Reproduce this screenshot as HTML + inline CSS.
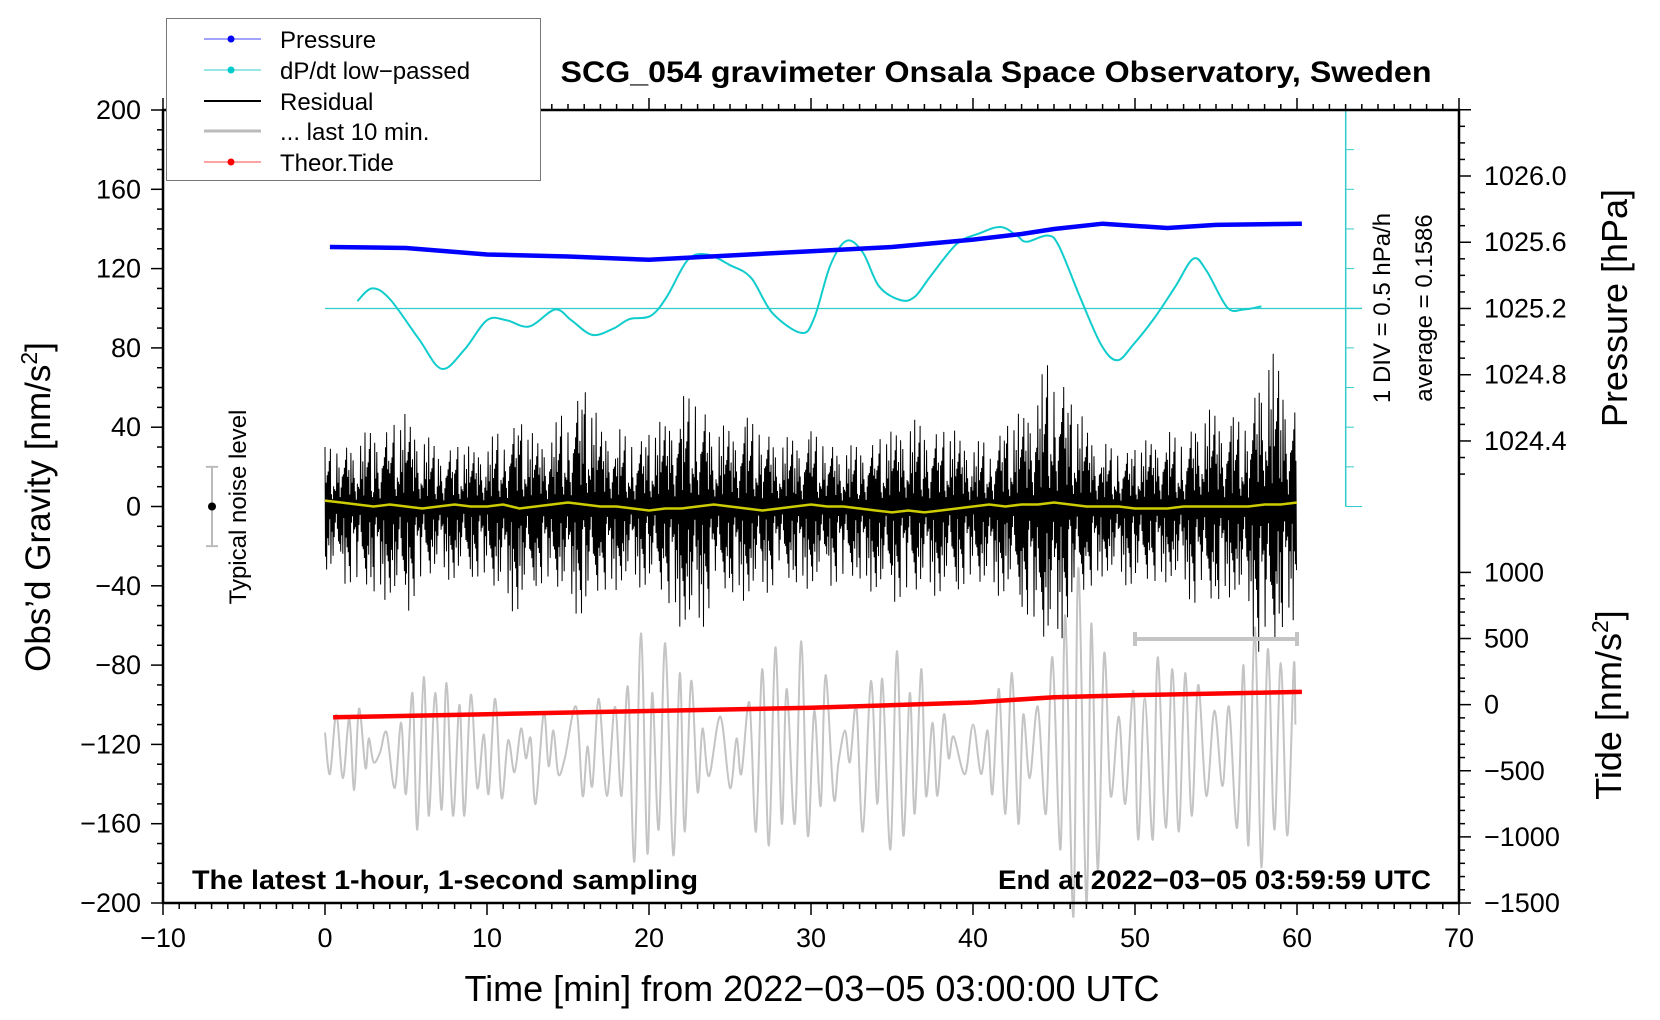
<!DOCTYPE html>
<html><head><meta charset="utf-8"><style>
html,body{margin:0;padding:0;background:#fff;}
svg{display:block;font-family:"Liberation Sans",Arial,sans-serif;}
</style></head><body>
<svg id="chart" width="1660" height="1020" viewBox="0 0 1660 1020" xmlns="http://www.w3.org/2000/svg">
<g id="marks"></g>
<g id="axes"></g>
<text x="996" y="82" text-anchor="middle" font-size="30" font-weight="bold" textLength="871" lengthAdjust="spacingAndGlyphs">SCG_054 gravimeter Onsala Space Observatory, Sweden</text>
<text x="192" y="889" font-size="27" font-weight="bold" textLength="506" lengthAdjust="spacingAndGlyphs">The latest 1-hour, 1-second sampling</text>
<text x="998" y="889" font-size="27" font-weight="bold" textLength="433" lengthAdjust="spacingAndGlyphs">End at 2022−03−05 03:59:59 UTC</text>
<text transform="translate(50,507) rotate(-90)" text-anchor="middle" font-size="35">Obs’d Gravity [nm/s<tspan baseline-shift="super" font-size="23">2</tspan>]</text>
<text transform="translate(1627,308) rotate(-90)" text-anchor="middle" font-size="36">Pressure [hPa]</text>
<text transform="translate(1621,705) rotate(-90)" text-anchor="middle" font-size="36">Tide [nm/s<tspan baseline-shift="super" font-size="23">2</tspan>]</text>
<text x="812" y="1001" text-anchor="middle" font-size="36">Time [min] from 2022−03−05 03:00:00 UTC</text>
<text transform="translate(1390,308) rotate(-90)" text-anchor="middle" font-size="24">1 DIV = 0.5 hPa/h</text>
<text transform="translate(1432,308) rotate(-90)" text-anchor="middle" font-size="24">average = 0.1586</text>
<text transform="translate(246,507) rotate(-90)" text-anchor="middle" font-size="24">Typical noise level</text>
<g>
<rect x="166.5" y="18.5" width="374" height="162" fill="#fff" stroke="#777" stroke-width="1"/>
<g><line x1="204" y1="39" x2="261" y2="39" stroke="#44f" stroke-width="1"/><circle cx="231" cy="39" r="3.5" fill="#00f"/><text x="280" y="48" font-size="24">Pressure</text></g>
<g><line x1="204" y1="70" x2="261" y2="70" stroke="#3cc" stroke-width="1"/><circle cx="231" cy="70" r="3.5" fill="#0cc"/><text x="280" y="79" font-size="24">dP/dt low−passed</text></g>
<g><line x1="204" y1="101" x2="261" y2="101" stroke="#000" stroke-width="2"/><text x="280" y="110" font-size="24">Residual</text></g>
<g><line x1="204" y1="131" x2="261" y2="131" stroke="#bbb" stroke-width="3"/><text x="280" y="140" font-size="24">... last 10 min.</text></g>
<g><line x1="204" y1="162" x2="261" y2="162" stroke="#f44" stroke-width="1"/><circle cx="231" cy="162" r="3.5" fill="#f00"/><text x="280" y="171" font-size="24">Theor.Tide</text></g>
</g>
</svg>
<script>
// ---- data ----
const pressureT = [0.3,5,10,15,20,25,30,35,40,43,45,48,52,55,60.3];
const pressureV = [1025.571,1025.565,1025.526,1025.514,1025.494,1025.52,1025.546,1025.571,1025.616,1025.65,1025.68,1025.712,1025.686,1025.705,1025.712];
const dpdtT = [2,2.9,4,5.8,7.2,8.6,10,11.2,12.6,14.2,15.2,16.5,17.8,18.8,20.1,21.1,22.4,23.6,25,26.3,27.6,29.4,30.2,31.2,32.2,33.2,34.2,35.5,36.4,37.4,39,40.4,41.7,42.7,43.3,44.6,45.3,46.6,47.9,48.9,49.9,51.2,52.5,53.6,54.4,55.7,56.7,57.8];
const dpdtV = [0.093,0.253,0.12,-0.387,-0.76,-0.52,-0.147,-0.147,-0.227,-0.013,-0.147,-0.333,-0.253,-0.133,-0.093,0.147,0.613,0.68,0.547,0.387,-0.053,-0.307,-0.12,0.547,0.853,0.707,0.28,0.107,0.147,0.413,0.813,0.947,1.027,0.92,0.84,0.92,0.787,0.147,-0.453,-0.653,-0.453,-0.12,0.28,0.627,0.48,0.013,-0.013,0.027];
const tideT = [0.5,10,20,30,40,45,50,60.3];
const tideV = [-96,-72,-48,-24,16,56,72,96];
const residualMax = [30,32,35,40,42,47,38,30,32,30,32,42,45,35,38,55,62,42,40,35,38,45,55,60,42,40,45,42,35,35,38,35,30,32,35,38,45,42,40,38,32,35,42,48,60,85,55,42,32,30,30,35,38,35,50,48,45,45,85,70,50];
const residualMin = [-35,-38,-42,-45,-48,-55,-40,-35,-38,-35,-40,-50,-55,-40,-42,-50,-58,-45,-42,-40,-42,-48,-62,-68,-48,-45,-48,-45,-40,-40,-42,-40,-40,-38,-45,-48,-48,-45,-45,-42,-40,-45,-45,-50,-70,-78,-55,-45,-35,-38,-42,-40,-38,-42,-55,-50,-45,-55,-90,-65,-55];
const smoothV = [3,2,1,0,1,0,-1,0,1,0,0,1,-1,0,1,2,1,0,0,-1,-2,-1,-1,0,1,0,-1,-2,-1,0,1,0,0,-1,-2,-3,-2,-3,-2,-1,0,1,0,1,1,2,1,0,0,0,-1,-1,-1,0,0,0,0,0,1,1,2];
const grayT = [0.0,0.3,0.7,1.1,1.5,1.8,2.1,2.5,2.7,3.0,3.4,3.8,4.3,4.7,5.0,5.4,5.7,6.1,6.4,6.8,7.2,7.5,7.9,8.3,8.6,9.0,9.4,9.8,10.1,10.5,10.9,11.3,11.7,12.1,12.4,12.7,13.0,13.5,13.8,14.1,14.4,14.8,15.5,15.9,16.2,16.5,16.9,17.4,17.9,18.3,18.7,19.1,19.5,19.9,20.2,20.6,21.0,21.5,21.9,22.2,22.6,23.0,23.3,23.7,24.4,25.0,25.4,25.7,26.2,26.6,27.0,27.4,27.8,28.2,28.5,29.0,29.4,29.8,30.2,30.6,30.9,31.4,31.7,32.1,32.4,32.8,33.2,33.7,34.1,34.4,34.9,35.3,35.7,36.1,36.4,36.8,37.1,37.5,37.8,38.2,38.5,38.8,39.5,40.0,40.5,40.9,41.2,41.6,42.0,42.4,42.8,43.1,43.5,44.0,44.5,44.9,45.4,45.7,46.2,46.5,47.0,47.3,47.7,48.1,48.5,49.0,49.4,49.9,50.2,50.6,51.1,51.4,51.9,52.3,52.7,53.1,53.5,53.9,54.4,54.9,55.4,55.8,56.3,56.7,57.0,57.4,57.8,58.2,58.6,59.0,59.4,59.8,59.9];
const grayV = [-114,-135,-105,-137,-107,-143,-102,-132,-117,-129,-124,-114,-142,-109,-145,-94,-163,-86,-156,-94,-153,-89,-156,-100,-156,-95,-142,-115,-145,-97,-147,-118,-134,-112,-127,-117,-150,-104,-131,-113,-135,-127,-101,-146,-121,-141,-97,-146,-101,-146,-91,-179,-64,-175,-94,-163,-69,-176,-84,-164,-88,-144,-112,-136,-106,-142,-117,-135,-99,-164,-82,-171,-71,-160,-92,-160,-68,-166,-103,-151,-85,-147,-129,-113,-129,-101,-164,-88,-150,-87,-173,-73,-166,-94,-155,-82,-146,-109,-146,-105,-127,-116,-135,-110,-135,-113,-145,-92,-155,-84,-160,-105,-137,-101,-155,-76,-173,-55,-207,-31,-200,-59,-183,-74,-146,-106,-150,-93,-168,-97,-168,-76,-162,-82,-164,-84,-156,-90,-146,-103,-141,-101,-162,-80,-171,-61,-182,-72,-163,-79,-166,-80,-110];
const gravTicks = [200,160,120,80,40,0,-40,-80,-120,-160,-200];
const gravLabels = ["200","160","120","80","40","0","−40","−80","−120","−160","−200"];
const timeTicks = [-10,0,10,20,30,40,50,60,70];
const timeLabels = ["−10","0","10","20","30","40","50","60","70"];
const pressTicks = [1024.4,1024.8,1025.2,1025.6,1026.0];
const pressLabels = ["1024.4","1024.8","1025.2","1025.6","1026.0"];
const tideTicks = [1000,500,0,-500,-1000,-1500];
const tideLabels = ["1000","500","0","−500","−1000","−1500"];

// ---- scales ----
const L=163,R=1459,T=110,B=903;
const xS = t => L + (t+10)*16.2;
const yG = g => T + (200-g)*1.9825;
const yP = p => 176 + (1026-p)*165.6;
const yD = v => 308.5 - v*79.4;
const yT = v => 903 - (v+1500)*0.13224;

const NS="http://www.w3.org/2000/svg";
const marks=document.getElementById('marks'), axes=document.getElementById('axes');
function mk(tag,attrs,parent){const e=document.createElementNS(NS,tag);for(const k in attrs)e.setAttribute(k,attrs[k]);parent.appendChild(e);return e;}
function smoothPath(xs,ys){let d='M'+xs[0].toFixed(1)+','+ys[0].toFixed(1);for(let i=0;i<xs.length-1;i++){const x0=xs[Math.max(i-1,0)],y0=ys[Math.max(i-1,0)],x1=xs[i],y1=ys[i],x2=xs[i+1],y2=ys[i+1],x3=xs[Math.min(i+2,xs.length-1)],y3=ys[Math.min(i+2,xs.length-1)];d+=' C'+(x1+(x2-x0)/6).toFixed(1)+','+(y1+(y2-y0)/6).toFixed(1)+' '+(x2-(x3-x1)/6).toFixed(1)+','+(y2-(y3-y1)/6).toFixed(1)+' '+x2.toFixed(1)+','+y2.toFixed(1);}return d;}

// gray last 10 min
let e=mk('path',{d:smoothPath(grayT.map(xS),grayV.map(yG)),fill:'none',stroke:'#c4c4c4','stroke-width':2},marks);



// residual
const tex=[1,0.35,0.62,0.18,0.85,0.45,0.28,0.72,0.12,0.5,0.95,0.3,0.58,0.22,0.4,0.68,0.15,0.8,0.38,0.55,0.25,0.9,0.33,0.6,0.2,0.47,0.75,0.1,0.52,0.42];
let rd='';
for(let m=0;m<60;m++){for(let k=0;k<30;k++){const t=m+k/30;const up=(k%2===0);const f=tex[(k*7+m*11)%30];const mx=residualMax[m]+(residualMax[m+1]-residualMax[m])*k/30;const mn=residualMin[m]+(residualMin[m+1]-residualMin[m])*k/30;const g=up?mx*f:mn*f;rd+=(rd?'L':'M')+xS(t).toFixed(1)+','+yG(g).toFixed(1);}}
e=mk('path',{d:rd,fill:'none',stroke:'#000','stroke-width':1},marks);



// smoothed residual
e=mk('polyline',{points:smoothV.map((v,i)=>xS(i).toFixed(1)+','+yG(v).toFixed(1)).join(' '),fill:'none',stroke:'#cc0','stroke-width':2.5},marks);



// tide
e=mk('polyline',{points:tideT.map((t,i)=>xS(t).toFixed(1)+','+yT(tideV[i]).toFixed(1)).join(' '),fill:'none',stroke:'#f00','stroke-width':4.5},marks);



// dpdt zero line
e=mk('line',{x1:xS(0),y1:yD(0),x2:1362,y2:yD(0),stroke:'#3cc','stroke-width':1.2},marks);


e=mk('path',{d:smoothPath(dpdtT.map(xS),dpdtV.map(yD)),fill:'none',stroke:'#1cc','stroke-width':2},marks);



// pressure
e=mk('polyline',{points:pressureT.map((t,i)=>xS(t).toFixed(1)+','+yP(pressureV[i]).toFixed(1)).join(' '),fill:'none',stroke:'#00f','stroke-width':4.5},marks);



// dpdt vertical scale
e=mk('line',{x1:1345.7,y1:T,x2:1345.7,y2:yG(0),stroke:'#3cc','stroke-width':1.5},marks);


for(let g=200;g>=0;g-=20){mk('line',{x1:1345.7,y1:yG(g),x2:g%100===0?1362:1354,y2:yG(g),stroke:'#3cc','stroke-width':1},marks);}

// noise bar
e=mk('g',{},marks);


mk('line',{x1:212,y1:yG(20),x2:212,y2:yG(-20),stroke:'#bbb','stroke-width':2},e);
mk('line',{x1:206,y1:yG(20),x2:218,y2:yG(20),stroke:'#bbb','stroke-width':2},e);
mk('line',{x1:206,y1:yG(-20),x2:218,y2:yG(-20),stroke:'#bbb','stroke-width':2},e);
mk('circle',{cx:212,cy:yG(0),r:4,fill:'#000'},e);

// last 10 min span bar
e=mk('g',{},marks);


mk('line',{x1:xS(50),y1:639,x2:xS(60),y2:639,stroke:'#c4c4c4','stroke-width':4},e);
mk('line',{x1:xS(50),y1:632,x2:xS(50),y2:646,stroke:'#c4c4c4','stroke-width':4},e);
mk('line',{x1:xS(60),y1:632,x2:xS(60),y2:646,stroke:'#c4c4c4','stroke-width':4},e);

// ---- axes ----
e=mk('rect',{x:L,y:T,width:R-L,height:B-T,fill:'none',stroke:'#000','stroke-width':2.5},axes);


for(let g=-200;g<=200;g+=10){const maj=g%40===0;mk('line',{x1:L,y1:yG(g),x2:L-(maj?12:6),y2:yG(g),stroke:'#000','stroke-width':1.5},axes);}
gravTicks.forEach((g,i)=>{const t=mk('text',{x:141,y:yG(g)+9,'text-anchor':'end','font-size':27},axes);t.textContent=gravLabels[i];

});
for(let m=-10;m<=70;m+=1){const maj=m%10===0;mk('line',{x1:xS(m),y1:B,x2:xS(m),y2:B+(maj?12:6),stroke:'#000','stroke-width':1.5},axes);mk('line',{x1:xS(m),y1:T,x2:xS(m),y2:T-(maj?12:6),stroke:'#000','stroke-width':1.5},axes);}
timeTicks.forEach((m,i)=>{const t=mk('text',{x:xS(m),y:947,'text-anchor':'middle','font-size':27},axes);t.textContent=timeLabels[i];

});
for(let p=1024.2;p<=1026.45;p+=0.1){const maj=Math.abs(Math.round(p*10)%4)===0;mk('line',{x1:R,y1:yP(p),x2:R+(maj?12:6),y2:yP(p),stroke:'#000','stroke-width':1.5},axes);}
pressTicks.forEach((p,i)=>{const t=mk('text',{x:1484,y:yP(p)+9,'font-size':27},axes);t.textContent=pressLabels[i];

});
for(let v=-1500;v<=1000;v+=100){const maj=v%500===0;mk('line',{x1:R,y1:yT(v),x2:R+(maj?12:6),y2:yT(v),stroke:'#000','stroke-width':1.5},axes);}
tideTicks.forEach((v,i)=>{const t=mk('text',{x:1484,y:yT(v)+9,'font-size':27},axes);t.textContent=tideLabels[i];

});
</script>
</body></html>
